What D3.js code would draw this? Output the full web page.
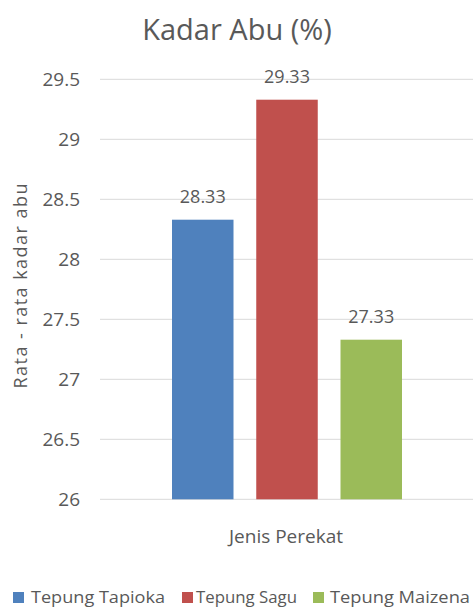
<!DOCTYPE html>
<html><head><meta charset="utf-8">
<script src="https://cdn.jsdelivr.net/npm/d3@7"></script>
<style>body{margin:0;background:#fff}svg{display:block}text{font-family:"Open Sans",sans-serif;fill:#595959}</style>
</head><body><svg id="c" width="473" height="608"></svg>
<script>
const categories = ["Tepung Tapioka","Tepung Sagu","Tepung Maizena"];
const values = [28.33, 29.33, 27.33];
const colors = ["#4f81bd","#c0504d","#9bbb59"];
const yTicks = [26,26.5,27,27.5,28,28.5,29,29.5];
const title = "Kadar Abu (%)";
const xTitle = "Jenis Perekat";
const yTitle = "Rata - rata kadar abu";

(function(){
const svg = d3.select("#c");
const pL = 100, pR = 473, pT = 79.3, pB = 499.3;
const y = d3.scaleLinear().domain([26,29.5]).range([pB, pT]);
const x = d3.scaleBand().domain(categories).range([172, 402]).paddingInner(0.27);

svg.append("g").selectAll("line").data(yTicks).join("line")
  .attr("x1", pL).attr("x2", pR).attr("y1", d=>y(d)).attr("y2", d=>y(d))
  .attr("stroke", "#d9d9d9").attr("stroke-width", 1);

const yAxis = svg.append("g").attr("transform", `translate(${pL},0)`)
  .call(d3.axisLeft(y).tickValues(yTicks).tickSize(0).tickPadding(20).tickFormat(d=>String(d)));
yAxis.select(".domain").remove();
yAxis.selectAll("text").style("font-size","19px").attr("fill","#595959").style("font-family","'Open Sans',sans-serif");

svg.append("g").selectAll("rect").data(values).join("rect")
  .attr("x", (d,i)=>x(categories[i])).attr("width", x.bandwidth())
  .attr("y", d=>y(d)).attr("height", d=>pB - y(d))
  .attr("fill", (d,i)=>colors[i]);

svg.append("g").selectAll("text").data(values).join("text")
  .attr("x", (d,i)=>x(categories[i]) + x.bandwidth()/2).attr("y", d=>y(d) - 17)
  .attr("text-anchor","middle").style("font-size","18px").text(d=>d.toFixed(2));

svg.append("text").attr("x", 237).attr("y", 40).attr("text-anchor","middle")
  .style("font-size","29px").text(title);
svg.append("text").attr("x", 286).attr("y", 543).attr("text-anchor","middle")
  .style("font-size","19px").text(xTitle);
svg.append("text").attr("transform","translate(27,286) rotate(-90)").attr("text-anchor","middle")
  .style("font-size","18px").attr("textLength",205).attr("lengthAdjust","spacing").text(yTitle);

const legX = [13, 182, 313];
const legW = [134, 101, 140];
const lg = svg.append("g").selectAll("g").data(categories).join("g")
  .attr("transform", (d,i)=>`translate(${legX[i]},592)`);
lg.append("rect").attr("width",11).attr("height",11).attr("fill",(d,i)=>colors[i]);
lg.append("text").attr("x",(d,i)=>i===0?18:(i===1?14:17)).attr("y",11).style("font-size","17px")
  .attr("textLength",(d,i)=>legW[i]).attr("lengthAdjust","spacingAndGlyphs").text(d=>d);
})();
</script></body></html>
